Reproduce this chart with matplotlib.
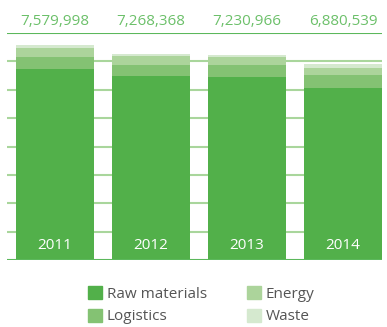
import matplotlib.pyplot as plt
from matplotlib.patches import Patch

plt.rcParams['font.family'] = ['Open Sans', 'DejaVu Sans']

years = ['2011', '2012', '2013', '2014']
totals = ['7,579,998', '7,268,368', '7,230,966', '6,880,539']
# values in millions
raw = [6.73, 6.48, 6.44, 6.06]
logistics = [0.42, 0.39, 0.42, 0.46]
energy = [0.32, 0.32, 0.28, 0.25]
waste = [0.11, 0.08, 0.09, 0.12]

names = ['Raw materials', 'Logistics', 'Energy', 'Waste']
colors = ['#52b04a', '#84c273', '#acd49b', '#d5e9cf']

fig = plt.figure(figsize=(3.87, 3.27), dpi=100)
ax = fig.add_axes([7/387, 67/327, 375/387, 227/327])

x = range(len(years))
w = 0.8125

# grid
for g in range(1, 8):
    ax.axhline(g, color='#a9d69c', lw=1.5, zorder=0)
ax.axhline(0, color='#5cb85c', lw=1.5, zorder=3)
ax.axhline(8, color='#5cb85c', lw=1.5, zorder=3)

bottom = [0, 0, 0, 0]
for vals, c in zip([raw, logistics, energy, waste], colors):
    ax.bar(x, vals, w, bottom=bottom, color=c, zorder=2)
    bottom = [b + v for b, v in zip(bottom, vals)]

for i in x:
    ax.text(i, 0.52, years[i], ha='center', va='center', color='white', fontsize=11, zorder=4)
    ax.text(i, 8.4, totals[i], ha='center', va='center', color='#6cc06a', fontsize=11, clip_on=False)

ax.set_xlim(-0.5, 3.406)
ax.set_ylim(0, 8)
ax.axis('off')

handles = [Patch(color=c) for c in colors]
fig.legend(handles, names, ncol=2, loc='center', bbox_to_anchor=(0.52, 0.066),
           frameon=False, fontsize=11, handlelength=0.9, handleheight=0.9,
           handletextpad=0.35, columnspacing=2.6, labelspacing=0.45,
           labelcolor='#555555')

fig.savefig('out.png', dpi=100)
